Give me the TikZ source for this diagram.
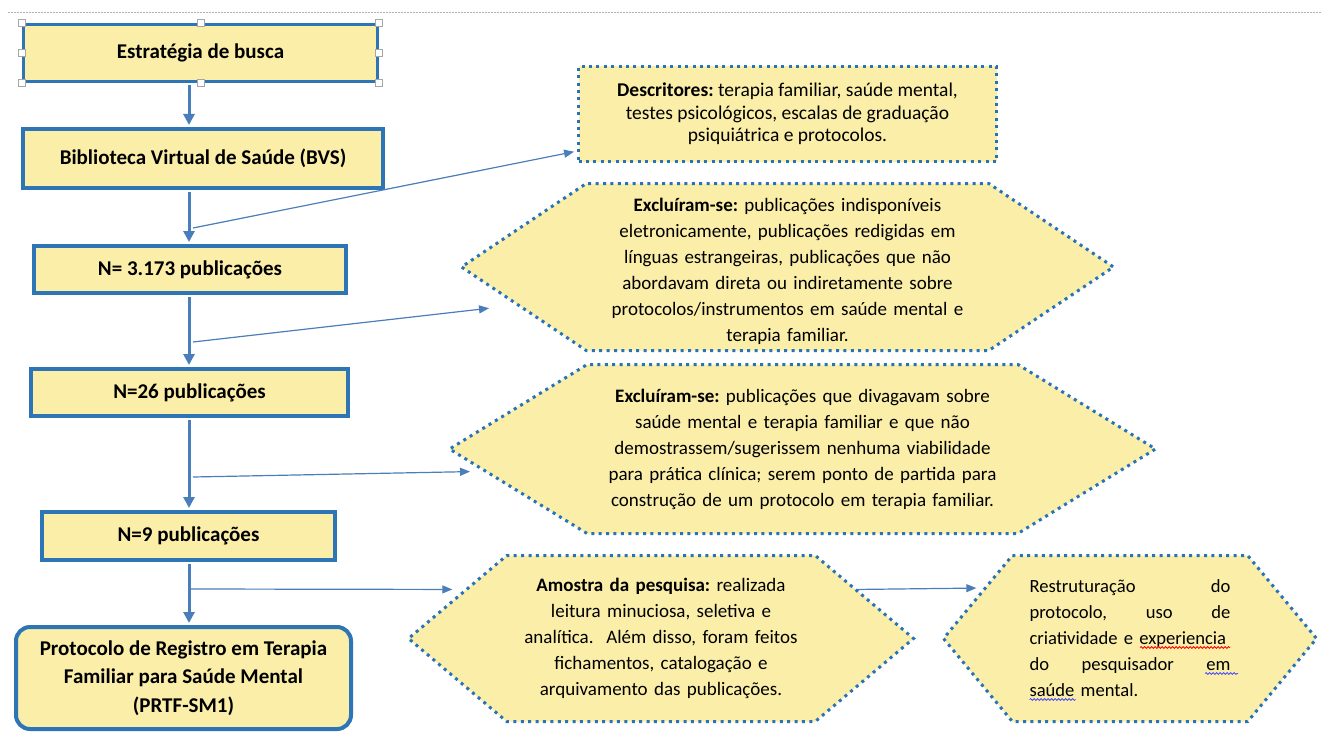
\documentclass[tikz,border=0pt]{standalone}
\usepackage{fontspec}
\setmainfont{Carlito}
\usetikzlibrary{arrows.meta,shapes.symbols,decorations.pathmorphing}

\definecolor{boxfill}{RGB}{250,238,168}
\definecolor{boxline}{RGB}{46,117,182}
\definecolor{flowblue}{RGB}{74,126,187}
\definecolor{dotblue}{RGB}{40,114,184}
\frenchspacing

\tikzset{
  stage/.style={draw=boxline, line width=4pt, fill=boxfill, inner sep=0pt, align=center,
    font=\fontsize{21}{28.5}\selectfont\bfseries, text=black},
  note/.style={draw=dotblue, line width=3pt, dash pattern=on 3pt off 4.4pt, fill=boxfill,
    inner sep=0pt, align=center, font=\fontsize{19}{26}\selectfont, text=black},
  hexnote/.style={note, shape=signal, signal to=west and east},
  flow/.style={flowblue, line width=3pt, shorten <=2pt, shorten >=2pt, -{Triangle[length=11pt,width=11pt]}},
  link/.style={flowblue, line width=1.2pt, -{Triangle[length=10pt,width=8pt]}},
  handle/.style={draw=gray!70, fill=white, line width=0.8pt, minimum size=7pt, inner sep=0pt},
  spell/.style={line width=0.8pt, decorate, decoration={snake, amplitude=0.9pt, segment length=3.5pt}}
}

\begin{document}
\begin{tikzpicture}[x=1pt,y=-1pt]
\useasboundingbox (0,0) rectangle (1321,733);
%canvas edge
\draw[gray!60, line width=1pt, dash pattern=on 1.5pt off 1.5pt] (8,13) -- (1321,13);

%left column
\node[stage, line width=3pt, minimum width=354, minimum height=57] (estrat) at (200.5,53) {Estratégia de busca};
\node[stage, minimum width=360, minimum height=59] (bvs) at (203,158.5) {Biblioteca Virtual de Saúde (BVS)};
\node[stage, minimum width=312, minimum height=47] (n3173) at (190,269.5) {N= 3.173 publicações};
\node[stage, minimum width=317, minimum height=47] (n26) at (189.5,392.5) {N=26 publicações};
\node[stage, minimum width=293, minimum height=48] (n9) at (188.5,536) {N=9 publicações};
\node[stage, rounded corners=14pt, minimum width=335, minimum height=102] (prtf) at (183.5,678)
  {Protocolo de Registro em Terapia\\ Familiar para Saúde Mental\\ (PRTF-SM1)};

%selection grips
\foreach \a/\n in {north west/1,north/2,north east/3,west/4,east/5,south west/6,south/7,south east/8}
\node[handle] (grip\n) at (estrat.\a) {};

%notes
\node[note, minimum width=418, minimum height=95, font=\fontsize{19.5}{22.5}\selectfont] (desc) at (787.5,114)
  {\textbf{Descritores:} terapia familiar, saúde mental,\\ testes psicológicos, escalas de graduação\\ psiquiátrica e protocolos.};
\node[hexnote, signal pointer angle=67.6, minimum width=652, minimum height=167, text width=380] (hex1) at (787.5,267)
  {\rule{0pt}{22pt}\textbf{Excluíram-se:} publicações indisponíveis\\ eletronicamente, publicações redigidas em\\ línguas estrangeiras, publicações que não\\ abordavam direta ou indiretamente sobre\\ protocolos/instrumentos em saúde mental e\\ terapia familiar.};
\node[hexnote, signal pointer angle=63.1, minimum width=706, minimum height=169, text width=420] (hex2) at (802.5,449)
  {\textbf{Excluíram-se:} publicações que divagavam sobre\\ saúde mental e terapia familiar e que não\\ demostrassem/sugerissem nenhuma viabilidade\\ para prática clínica; serem ponto de partida para\\ construção de um protocolo em terapia familiar.};
\node[hexnote, signal pointer angle=80.4, minimum width=505, minimum height=166, text width=295] (hex3) at (661,638.5)
  {\textbf{Amostra da pesquisa:} realizada\\ leitura minuciosa, seletiva e\\ analítica.\ \ Além disso, foram feitos\\ fichamentos, catalogação e\\ arquivamento das publicações.};
\node[hexnote, signal pointer angle=100.7, minimum width=373, minimum height=166, text width=201, align=left,
  font=\fontsize{18.6}{26}\selectfont] (hex4) at (1130,638.5)
  {Restruturação\hfill do\\ protocolo,\hfill uso\hfill de\\ \mbox{criatividade e experiencia}\\ do\hfill pesquisador\hfill em\\ saúde mental.};

%spelling marks
\draw[spell, red] ([shift={(10,9)}]hex4.center) -- ++(90,0);
\draw[spell, blue!70] ([shift={(75,35)}]hex4.center) -- ++(33,0);
\draw[spell, blue!70] ([shift={(-100.5,61)}]hex4.center) -- ++(46,0);

%main flow
\coordinate (trunk) at (189,0);
\draw[flow] (estrat.south -| trunk) -- (bvs.north -| trunk);
\draw[flow] (bvs.south -| trunk) -- (n3173.north -| trunk);
\draw[flow] (n3173.south -| trunk) -- (n26.north -| trunk);
\draw[flow] (n26.south -| trunk) -- (n9.north -| trunk);
\draw[flow] (n9.south -| trunk) -- (prtf.north -| trunk);

%side links
\coordinate (tap1) at (193,228);
\coordinate (tap2) at (193,342);
\coordinate (tap3) at (193,477);
\coordinate (tap4) at (190,589);
\draw[link, shorten >=3pt] (tap1) -- (desc.190);
\draw[link, shorten >=27pt] (tap2) -- (hex1.188);
\draw[link, shorten >=13pt] (tap3) -- (hex2.184);
\draw[link, shorten >=12pt] (tap4) -- (hex3.166);
\draw[link, shorten >=7pt] (hex3.14) -- (hex4.161.5);

\end{tikzpicture}
\end{document}
